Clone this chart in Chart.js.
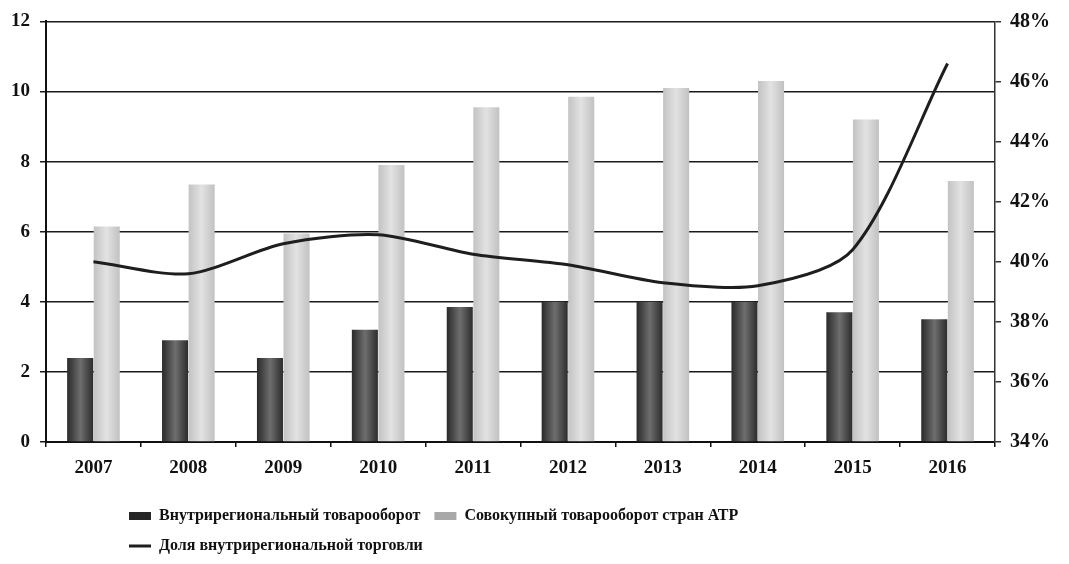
<!DOCTYPE html>
<html><head><meta charset="utf-8">
<script src="https://cdn.jsdelivr.net/npm/chart.js@4/dist/chart.umd.min.js"></script>
<style>html,body{margin:0;padding:0;background:#fff}</style>
</head><body>
<canvas id="c" width="1069" height="564"></canvas>
<script>
const categories = ['2007','2008','2009','2010','2011','2012','2013','2014','2015','2016'];
const intraTrade = [2.4, 2.9, 2.4, 3.2, 3.85, 4.0, 4.0, 4.0, 3.7, 3.5];
const totalTrade = [6.15, 7.35, 5.95, 7.9, 9.55, 9.85, 10.1, 10.3, 9.2, 7.45];
const intraShare = [40.0, 39.6, 40.6, 40.9, 40.25, 39.9, 39.3, 39.2, 40.4, 46.6];
const seriesNames = ['Внутрирегиональный товарооборот', 'Совокупный товарооборот стран АТР', 'Доля внутрирегиональной торговли'];
const leftTicks = [0, 2, 4, 6, 8, 10, 12];
const rightTicks = [34, 36, 38, 40, 42, 44, 46, 48];

const FONT = "'Liberation Serif', 'DejaVu Serif', serif";
const CAT_PCT = 0.56, BAR_PCT = 0.98;

function barGradient(side, edge, mid) {
  return (ctx) => {
    const chart = ctx.chart, xs = chart.scales.x;
    if (ctx.type !== 'data' || !xs || !chart.chartArea) return mid;
    const cw = xs.width / chart.data.labels.length;
    const bw = cw * CAT_PCT * BAR_PCT / 2;
    const cx = xs.getPixelForValue(ctx.dataIndex) + side * bw / 2;
    const g = chart.ctx.createLinearGradient(cx - bw / 2, 0, cx + bw / 2, 0);
    g.addColorStop(0, edge); g.addColorStop(0.5, mid); g.addColorStop(1, edge);
    return g;
  };
}

const legendLayout = {
  id: 'legendLayout',
  afterInit(chart) {
    const lg = chart.legend;
    const orig = lg.update.bind(lg);
    lg.update = function (maxW, maxH, margins) { return orig(Math.min(maxW, 680), maxH, margins); };
  },
  afterLayout(chart) {
    chart.legend.left = 115;
    chart.legend.right = 115 + 680;
  }
};

const legendColors = ['#262626', '#a8a8a8'];

new Chart(document.getElementById('c'), {
  data: {
    labels: categories,
    datasets: [
      { type: 'bar', label: seriesNames[0], data: intraTrade, backgroundColor: barGradient(-1, '#2b2b2b', '#6e6e6e'),
        yAxisID: 'y', order: 1, categoryPercentage: CAT_PCT, barPercentage: BAR_PCT },
      { type: 'bar', label: seriesNames[1], data: totalTrade, backgroundColor: barGradient(1, '#c2c2c2', '#e2e2e2'),
        yAxisID: 'y', order: 1, categoryPercentage: CAT_PCT, barPercentage: BAR_PCT },
      { type: 'line', label: seriesNames[2], data: intraShare, borderColor: '#1e1e1e', backgroundColor: '#1e1e1e',
        borderWidth: 3, pointRadius: 0, tension: 0.28, yAxisID: 'y1', order: 0 }
    ]
  },
  options: {
    responsive: false,
    devicePixelRatio: 1,
    animation: false,
    layout: { padding: { top: 20, left: 0, right: 0, bottom: 0 } },
    plugins: {
      tooltip: { enabled: false },
      legend: {
        position: 'bottom',
        align: 'start',
        labels: {
          usePointStyle: true,
          pointStyleWidth: 22,
          boxWidth: 22,
          boxHeight: 8,
          padding: 14,
          color: '#111',
          font: { family: FONT, size: 16, weight: 'bold' },
          sort: (a, b) => a.datasetIndex - b.datasetIndex,
          generateLabels(chart) {
            const items = Chart.defaults.plugins.legend.labels.generateLabels(chart);
            items.forEach(it => {
              const ds = chart.data.datasets[it.datasetIndex];
              if (ds.type === 'line') { it.pointStyle = 'line'; it.lineWidth = 3; it.strokeStyle = ds.borderColor; }
              else { it.pointStyle = 'rect'; it.lineWidth = 0; it.fillStyle = legendColors[it.datasetIndex]; }
            });
            return items;
          }
        }
      }
    },
    scales: {
      x: {
        offset: true,
        grid: { display: true, offset: true, drawOnChartArea: false, drawTicks: true, tickLength: 5, color: '#111', lineWidth: 1.5 },
        border: { display: true, color: '#111', width: 2 },
        ticks: { color: '#111', padding: 10, font: { family: FONT, size: 19, weight: 'bold' } },
        afterFit(s) { s.height = 52; }
      },
      y: {
        position: 'left',
        min: 0, max: 12,
        afterBuildTicks(s) { s.ticks = leftTicks.map(v => ({ value: v })); },
        grid: { color: '#1a1a1a', lineWidth: 1.5, tickLength: 6 },
        border: { display: true, color: '#111', width: 2 },
        ticks: { color: '#111', padding: 10, font: { family: FONT, size: 19, weight: 'bold' } },
        afterFit(s) { s.width = 46; }
      },
      y1: {
        position: 'right',
        min: 34, max: 48,
        afterBuildTicks(s) { s.ticks = rightTicks.map(v => ({ value: v })); },
        grid: { drawOnChartArea: false, color: '#333', lineWidth: 1.5, tickLength: 6 },
        border: { display: true, color: '#333', width: 1.5 },
        ticks: { color: '#111', padding: 9, font: { family: FONT, size: 20, weight: 'bold' }, callback: v => v + '%' },
        afterFit(s) { s.width = 74; }
      }
    }
  },
  plugins: [legendLayout]
});
</script>
</body></html>
